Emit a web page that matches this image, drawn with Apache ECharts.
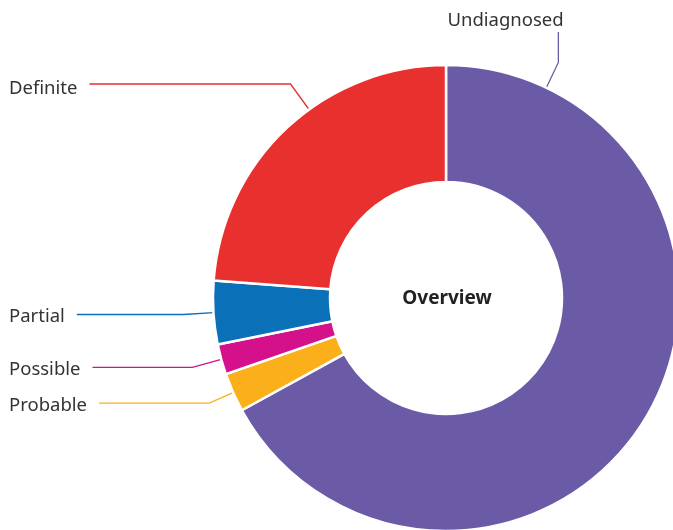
<!DOCTYPE html>
<html><head><meta charset="utf-8">
<script src="https://cdn.jsdelivr.net/npm/echarts@6/dist/echarts.min.js"></script>
<style>html,body{margin:0;padding:0;background:#fff}#c{width:673px;height:530px}</style>
</head><body><div id="c"></div>
<script>
// Data (clockwise from 12 o'clock)
const categories = ['Undiagnosed', 'Probable', 'Possible', 'Partial', 'Definite'];
const values = [67.0, 2.7, 2.1, 4.4, 23.8];
const centerTitle = 'Overview';

// Styles
const colors = ['#6b5aa6', '#fbb01b', '#d4118b', '#0a70b8', '#e8302f'];
const lineLengths = [28, 26, 30, 30, 57];
const CENTER = [446, 298];
const RADIUS = [116, 233];

const chart = echarts.init(document.getElementById('c'), null, {renderer: 'canvas'});
const fontFamily = "'Noto Sans', 'Open Sans', sans-serif";

function polar(deg, r) {
  const a = deg * Math.PI / 180;
  return [CENTER[0] + r * Math.sin(a), CENTER[1] - r * Math.cos(a)];
}

const data = categories.map((name, i) => {
  const item = {
    name: name,
    value: values[i],
    itemStyle: {color: colors[i]},
    labelLine: {length: lineLengths[i]}
  };
  if (i === 0) item.label = {width: 140, alignTo: 'none', overflow: 'none'};
  return item;
});

chart.setOption({
  animation: false,
  backgroundColor: '#ffffff',
  title: {
    text: centerTitle,
    left: CENTER[0] + 1,
    top: CENTER[1] + 1,
    padding: 0,
    textAlign: 'center',
    textVerticalAlign: 'middle',
    textStyle: {fontFamily: fontFamily, fontSize: 19, fontWeight: 'bold', color: '#222'}
  },
  series: [{
    type: 'pie',
    left: 0, right: 0, top: 0, bottom: 0,
    center: CENTER,
    radius: RADIUS,
    startAngle: 90,
    clockwise: true,
    avoidLabelOverlap: true,
    itemStyle: {borderColor: '#ffffff', borderWidth: 2.5},
    label: {
      show: true,
      position: 'outside',
      alignTo: 'edge',
      edgeDistance: 9,
      distanceToLabelLine: 12,
      fontFamily: fontFamily,
      fontSize: 18.5,
      color: '#333333',
      formatter: '{b}'
    },
    labelLine: {show: true, length2: 10, smooth: false, lineStyle: {width: 1.3}},
    labelLayout: function (params) {
      if (params.dataIndex === 0) {
        const p0 = polar(25.5, RADIUS[1]);
        const p1 = polar(25.5, RADIUS[1] + 28);
        const p2 = [p1[0], 32];
        return {
          x: 505.5,
          y: 21,
          align: 'center',
          verticalAlign: 'middle',
          labelLinePoints: [p0, p1, p2]
        };
      }
      if (params.dataIndex === 4) {
        const lr = params.labelRect;
        const lineY = 84;
        const ang = 324;
        const r1 = (CENTER[1] - lineY) / Math.cos((360 - ang) * Math.PI / 180);
        const p0 = polar(ang, RADIUS[1]);
        const p1 = polar(ang, r1);
        const p2 = [lr.x + lr.width + 12, lineY];
        return {dy: 3, labelLinePoints: [p0, p1, p2]};
      }
      if (params.labelLinePoints) {
        return {dy: 2.5, labelLinePoints: params.labelLinePoints.map(p => p.slice())};
      }
      return {};
    },
    emphasis: {disabled: true},
    data: data
  }]
});
</script>
</body></html>
